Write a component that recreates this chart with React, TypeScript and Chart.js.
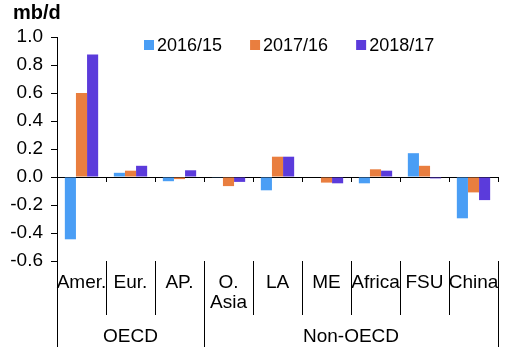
import React, { useEffect, useRef } from "react";
import { Chart, registerables } from "chart.js";

Chart.register(...registerables);

const categories: (string | string[])[] = ["Amer.", "Eur.", "AP.", ["O.", "Asia"], "LA", "ME", "Africa", "FSU", "China"];
const groups = [
  { label: "OECD", start: 0, end: 2 },
  { label: "Non-OECD", start: 3, end: 8 },
];
const seriesNames = ["2016/15", "2017/16", "2018/17"];
const s2016 = [-0.445, 0.03, -0.03, -0.005, -0.095, 0.0, -0.045, 0.17, -0.295];
const s2017 = [0.6, 0.045, -0.015, -0.065, 0.145, -0.04, 0.055, 0.08, -0.11];
const s2018 = [0.875, 0.08, 0.048, -0.035, 0.145, -0.045, 0.045, -0.01, -0.165];
const colors = ["#4A9EF5", "#E97E3F", "#5B3BDB"];
const yMin = -0.6;
const yMax = 1.0;
const yStep = 0.2;

const FONT = "'Liberation Sans', Arial, sans-serif";

const decorPlugin = {
  id: "decor",
  afterDraw(chart: any) {
    const ctx = chart.ctx;
    const x = chart.scales.x;
    const y = chart.scales.y;
    const area = chart.chartArea;
    const half = (x.getPixelForValue(1) - x.getPixelForValue(0)) / 2;
    const bound = (i: number) => x.getPixelForValue(i) - half;
    const zeroY = y.getPixelForValue(0);
    ctx.save();
    ctx.strokeStyle = "#000";
    ctx.lineWidth = 1;
    // zero line ticks
    for (let i = 1; i <= categories.length; i++) {
      const bx = Math.round(bound(i)) + 0.5;
      ctx.beginPath();
      ctx.moveTo(bx, zeroY);
      ctx.lineTo(bx, zeroY + 5);
      ctx.stroke();
    }
    // separators
    const groupBounds = new Set<number>();
    groups.forEach((g) => {
      groupBounds.add(g.start);
      groupBounds.add(g.end + 1);
    });
    for (let i = 0; i <= categories.length; i++) {
      const bx = Math.round(bound(i)) + 0.5;
      const len = groupBounds.has(i) ? 86 : 54;
      ctx.beginPath();
      ctx.moveTo(bx, area.bottom);
      ctx.lineTo(bx, area.bottom + len);
      ctx.stroke();
    }
    // category labels
    ctx.fillStyle = "#000";
    ctx.font = `19px ${FONT}`;
    ctx.textAlign = "center";
    ctx.textBaseline = "middle";
    categories.forEach((c, i) => {
      const lines = Array.isArray(c) ? c : [c];
      const cx = x.getPixelForValue(i);
      lines.forEach((ln, j) => {
        ctx.fillText(ln, cx, area.bottom + 22 + j * 20);
      });
    });
    // group labels
    groups.forEach((g) => {
      const cx = (bound(g.start) + bound(g.end + 1)) / 2;
      ctx.fillText(g.label, cx, area.bottom + 76);
    });
    // title
    ctx.font = `bold 20px ${FONT}`;
    ctx.textAlign = "left";
    ctx.fillText("mb/d", 13, 13);
    // legend
    ctx.font = `18px ${FONT}`;
    let lx = 144;
    const ly = 45;
    seriesNames.forEach((n, i) => {
      ctx.fillStyle = colors[i];
      ctx.fillRect(lx, ly - 5, 10, 10);
      ctx.fillStyle = "#000";
      ctx.fillText(n, lx + 13, ly + 1);
      lx += 13 + ctx.measureText(n).width + 28;
    });
    ctx.restore();
  },
};

export default function App() {
  const ref = useRef<HTMLCanvasElement>(null);
  useEffect(() => {
    if (!ref.current) return;
    const chart = new Chart(ref.current, {
      type: "bar",
      data: {
        labels: categories.map((c) => (Array.isArray(c) ? c.join(" ") : c)),
        datasets: [s2016, s2017, s2018].map((d, i) => ({
          label: seriesNames[i],
          data: d,
          backgroundColor: colors[i],
          borderWidth: 0,
          categoryPercentage: 0.68,
          barPercentage: 1,
        })),
      },
      options: {
        animation: false,
        responsive: true,
        maintainAspectRatio: false,
        layout: { padding: { left: 0, top: 37, right: 17, bottom: 95 } },
        plugins: { legend: { display: false }, title: { display: false }, tooltip: { enabled: false } },
        scales: {
          x: { display: false, offset: true },
          y: {
            min: yMin,
            max: yMax,
            afterFit: (scale: any) => {
              scale.width = 57;
            },
            ticks: {
              stepSize: yStep,
              padding: 8,
              color: "#000",
              font: { family: FONT, size: 19 },
              callback: (v: any) => Number(v).toFixed(1),
            },
            grid: {
              drawOnChartArea: true,
              drawTicks: true,
              tickLength: 6,
              tickColor: "#000",
              color: (ctx: any) => (ctx.tick && Math.abs(ctx.tick.value) < 1e-9 ? "#000" : "rgba(0,0,0,0)"),
              lineWidth: 1,
            },
            border: { display: true, color: "#000", width: 1 },
          },
        },
      },
      plugins: [decorPlugin],
    });
    return () => chart.destroy();
  }, []);
  return (
    <div style={{ position: "fixed", left: 0, top: 0, width: 515, height: 356, background: "#fff" }}>
      <canvas ref={ref} />
    </div>
  );
}
